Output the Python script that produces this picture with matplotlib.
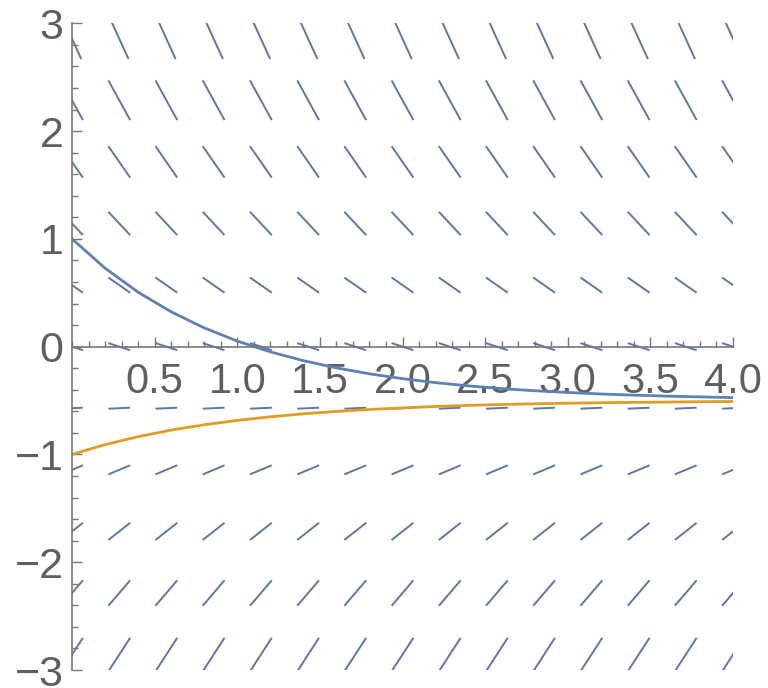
import numpy as np
import matplotlib.pyplot as plt
from matplotlib.collections import LineCollection
from matplotlib.ticker import MultipleLocator

# slope field grid
field_x = [0.0, 0.286, 0.571, 0.857, 1.143, 1.429, 1.714, 2.0,
           2.286, 2.571, 2.857, 3.143, 3.429, 3.714, 4.0]
field_y = [2.857, 2.286, 1.714, 1.143, 0.571, 0.0,
           -0.571, -1.143, -1.714, -2.286, -2.857]
# slope of each row and half of the dash's horizontal extent
row_slope = [-3.36, -2.79, -2.21, -1.64, -1.07, -0.50,
             0.07, 0.64, 1.21, 1.79, 2.36]
row_halfw = [0.056, 0.066, 0.066, 0.066, 0.066, 0.066,
             0.066, 0.066, 0.066, 0.066, 0.066]

# solution curves
t = [0.0, 0.2, 0.4, 0.6, 0.8, 1.0, 1.2, 1.4, 1.6, 1.8, 2.0,
     2.2, 2.4, 2.6, 2.8, 3.0, 3.2, 3.4, 3.6, 3.8, 4.0]
y_blue = [1.0, 0.728, 0.505, 0.323, 0.174, 0.052, -0.048, -0.130, -0.197,
          -0.252, -0.297, -0.334, -0.364, -0.389, -0.409, -0.425, -0.439,
          -0.450, -0.459, -0.466, -0.473]
y_orange = [-1.0, -0.909, -0.835, -0.774, -0.725, -0.684, -0.651, -0.623,
            -0.601, -0.583, -0.568, -0.555, -0.545, -0.537, -0.530, -0.525,
            -0.520, -0.517, -0.514, -0.511, -0.509]

plt.rcParams['font.family'] = ['Liberation Sans', 'DejaVu Sans']

fig = plt.figure(figsize=(7.68, 6.88), dpi=100)
ax = fig.add_axes([72 / 768, 18 / 688, 661 / 768, 646.7 / 688])

segs = []
for y0, s, hw in zip(field_y, row_slope, row_halfw):
    for x0 in field_x:
        segs.append([(x0 - hw, y0 - s * hw), (x0 + hw, y0 + s * hw)])
ax.add_collection(LineCollection(segs, colors='#5a78a8', linewidths=1.4))

ax.plot(t, y_blue, color='#5E81B5', lw=2.0)
ax.plot(t, y_orange, color='#E19C24', lw=2.0)

ax.set_xlim(0, 4)
ax.set_ylim(-3, 3)

ax.spines['top'].set_visible(False)
ax.spines['right'].set_visible(False)
ax.spines['bottom'].set_position(('data', 0))
for sp in ('left', 'bottom'):
    ax.spines[sp].set_color('#777777')
    ax.spines[sp].set_linewidth(1.2)

ax.set_xticks([0.5, 1.0, 1.5, 2.0, 2.5, 3.0, 3.5, 4.0])
ax.set_xticklabels(['0.5', '1.0', '1.5', '2.0', '2.5', '3.0', '3.5', '4.0'])
ax.xaxis.set_minor_locator(MultipleLocator(0.1))
ax.set_yticks([-3, -2, -1, 0, 1, 2, 3])
ax.set_yticklabels(['\u22123', '\u22122', '\u22121', '0', '1', '2', '3'])
ax.yaxis.set_minor_locator(MultipleLocator(0.2))

ax.tick_params(which='both', direction='in', color='#777777', width=1.0,
               labelcolor='#5f5f5f')
ax.tick_params(axis='x', which='major', length=7, pad=11, labelsize=30)
ax.tick_params(axis='y', which='major', length=7, pad=6, labelsize=31)
ax.tick_params(which='minor', length=4)

fig.savefig('out.png', dpi=100)
